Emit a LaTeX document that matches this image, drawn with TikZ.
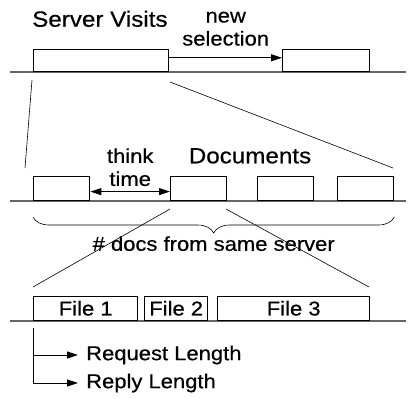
\documentclass[tikz,border=0pt]{standalone}
\usepackage{fontspec}
\setmainfont{Liberation Sans}[FakeStretch=1.1, FakeBold=0.5]
\usetikzlibrary{arrows.meta,decorations.pathreplacing}

\begin{document}
\begin{tikzpicture}[x=1pt, y=-1pt,
    box/.style={draw, line width=1.4pt, inner sep=0pt, anchor=south west},
    timeline/.style={draw=black!60, line width=1.1pt},
    zoomline/.style={line width=0.6pt},
    arr/.style={-{Triangle[length=11pt,width=7pt]}, line width=1pt},
    lbl/.style={font=\fontsize{20}{23}\selectfont, inner sep=2pt},
    head/.style={font=\fontsize{22}{25}\selectfont, inner sep=0pt}]
  \useasboundingbox (0,0) rectangle (414,398);
  \draw[timeline] (10,72) -- (406,72);
  \draw[timeline] (10,201) -- (406,201);
  \draw[timeline] (10,321) -- (406,321);
  \node[head, anchor=base west] (visits) at (32,26.7) {Server Visits};
  \node[box, minimum width=135pt, minimum height=22pt] (visitA) at (33,72) {};
  \node[box, minimum width=87pt, minimum height=22pt] (visitB) at (282,72) {};
  \draw[arr] ([yshift=2.5pt]visitA.east) -- ([yshift=2.5pt]visitB.west)
    node[lbl, midway, above=9.6pt, align=center] {new\\selection};
  \node[head, anchor=base] (docs) at (250,163.3) {Documents};
  \node[box, minimum width=56pt, minimum height=24pt] (docA) at (33,201) {};
  \node[box, minimum width=56pt, minimum height=24pt] (docB) at (170,201) {};
  \node[box, minimum width=56pt, minimum height=24pt] (docC) at (257,201) {};
  \node[box, minimum width=56pt, minimum height=24pt] (docD) at (337,201) {};
  \draw[arr, {Triangle[length=11pt,width=7pt]}-{Triangle[length=11pt,width=7pt]}]
    ([yshift=-3.3pt]docA.east) -- ([yshift=-3.3pt]docB.west)
    node[lbl, midway, above=3pt, align=center] {think\\time};
  \draw[zoomline, decorate, decoration={brace, mirror, amplitude=16pt}]
    ([yshift=-16pt]docA.south west) -- ([yshift=-16pt]docD.south east)
    node[lbl, midway, below=17pt] {\# docs from same server};
  \node[lbl, box, minimum width=104pt, minimum height=24pt] (file1) at (33,321) {File 1};
  \node[lbl, box, minimum width=63pt, minimum height=24pt] (file2) at (144,321) {File 2};
  \node[lbl, box, minimum width=152pt, minimum height=24pt] (file3) at (217,321) {File 3};
  \coordinate (zA) at (32,80); \coordinate (zB) at (25,168);
  \coordinate (zC) at (170,82); \coordinate (zD) at (393,168);
  \coordinate (zE) at (170,209); \coordinate (zF) at (33,287);
  \coordinate (zG) at (226,209); \coordinate (zH) at (369,287);
  \draw[zoomline] (zA) -- (zB);
  \draw[zoomline] (zC) -- (zD);
  \draw[zoomline] (zE) -- (zF);
  \draw[zoomline] (zG) -- (zH);
  \coordinate (split) at (33,328);
  \node[lbl, anchor=west] (req) at (84,355) {Request Length};
  \node[lbl, anchor=west] (rep) at (84,383) {Reply Length};
  \draw[arr, shorten >=6pt] (split) |- (req.west);
  \draw[arr, shorten >=6pt] (split) |- (rep.west);
\end{tikzpicture}
\end{document}
